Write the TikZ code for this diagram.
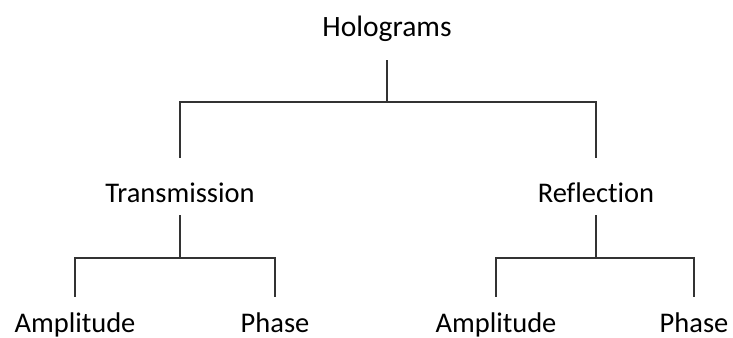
\documentclass[tikz,border=0pt]{standalone}
\usepackage{fontspec}
\setmainfont{Carlito}[Ligatures=NoCommon]
\usepackage{tikz}
\usetikzlibrary{positioning}

\begin{document}
\begin{tikzpicture}[
	lbl/.style={anchor=base,inner sep=0pt,text height=0.38cm,text depth=0.12cm,font=\fontsize{16.2pt}{19pt}\selectfont},
	branch/.style={draw=black!80,line width=0.7pt}]
\useasboundingbox (0,0) rectangle (14.66,6.76);
\node[lbl,font=\fontsize{16.8pt}{20pt}\selectfont] (holo) at (7.74,6.02){Holograms};
\node[lbl] (trans) at (3.6,2.7){Transmission};
\node[lbl] (refl)  at (11.92,2.7){Reflection};
\foreach \n/\x/\t in {tAmp/1.5/Amplitude,tPh/5.5/Phase,rAmp/9.92/Amplitude,rPh/13.88/Phase}
	\node[lbl] (\n) at (\x,0.1){\t};
\coordinate (hJ) at (7.74,4.72);
\coordinate (tJ) at (3.6,1.6);
\coordinate (rJ) at (11.92,1.6);
\draw[branch,shorten <=3.4mm] (holo) -- (hJ);
\foreach \c in {trans,refl}\draw[branch,shorten >=5.2mm] (hJ) -| (\c);
\draw[branch,shorten <=1.2mm] (trans) -- (tJ);
\draw[branch,shorten <=1.2mm] (refl) -- (rJ);
\foreach \c in {tAmp,tPh}\draw[branch,shorten >=3.4mm] (tJ) -| (\c);
\foreach \c in {rAmp,rPh}\draw[branch,shorten >=3.4mm] (rJ) -| (\c);
\end{tikzpicture}
\end{document}
